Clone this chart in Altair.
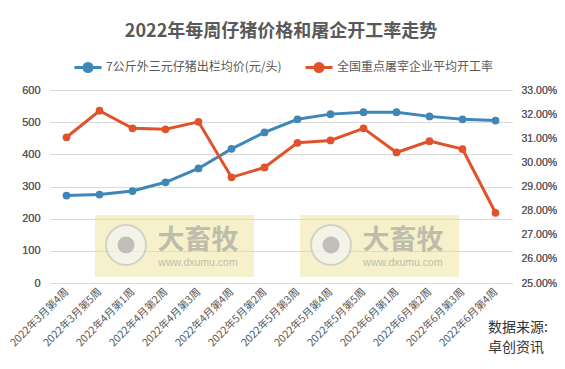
import altair as alt
import pandas as pd

weeks = ["2022年3月第4周", "2022年3月第5周", "2022年4月第1周", "2022年4月第2周",
         "2022年4月第3周", "2022年4月第4周", "2022年5月第2周", "2022年5月第3周",
         "2022年5月第4周", "2022年5月第5周", "2022年6月第1周", "2022年6月第2周",
         "2022年6月第3周", "2022年6月第4周"]
price = [272, 275, 286, 313, 356, 417, 468, 509, 525, 531, 531, 518, 509, 505]
rate = [31.04, 32.14, 31.41, 31.37, 31.68, 29.38, 29.79, 30.81, 30.91, 31.41,
        30.41, 30.88, 30.55, 27.91]
series = ["7公斤外三元仔猪出栏均价(元/头)", "全国重点屠宰企业平均开工率"]
colors = ["#3f87b6", "#e0532a"]

FONT = "Liberation Sans, Noto Sans CJK SC, sans-serif"
CJK = "Noto Sans CJK SC, sans-serif"
GRAY = "#595959"

df_p = pd.DataFrame({"week": weeks, "val": price, "series": series[0]})
df_r = pd.DataFrame({"week": weeks, "val": [v / 100 for v in rate], "series": series[1]})

xenc = alt.X("week:N", sort=weeks,
             scale=alt.Scale(type="point", padding=0.5),
             axis=alt.Axis(title=None, labelAngle=-45, labelAlign="right", labelBaseline="middle",
                           labelFontSize=10.5, labelColor=GRAY, labelFont=CJK, ticks=False,
                           domainColor="#d9d9d9", labelPadding=7))

legend = alt.Legend(
    orient="none", legendX=23, legendY=-38, direction="horizontal", title=None,
    symbolType="M-1,0H1M-0.3,0A0.3,0.3,0,1,0,0.3,0A0.3,0.3,0,1,0,-0.3,0Z",
    symbolSize=729, symbolStrokeWidth=3, labelFontSize=12, labelColor=GRAY, labelFont=CJK,
    columnPadding=17, labelOffset=3, symbolOpacity=1, labelLimit=400)
cenc = alt.Color("series:N", scale=alt.Scale(domain=series, range=colors), legend=legend)

yp = alt.Y("val:Q", scale=alt.Scale(domain=[0, 600], nice=False),
           axis=alt.Axis(orient="left", title=None, values=[0, 100, 200, 300, 400, 500, 600],
                         grid=True, gridColor="#d9d9d9", domain=False, ticks=False,
                         labelColor=GRAY, labelFontSize=11, labelFont=FONT, labelPadding=10))
yr = alt.Y("val:Q", scale=alt.Scale(domain=[0.25, 0.33], nice=False),
           axis=alt.Axis(orient="right", title=None, format=".2%",
                         values=[0.25, 0.26, 0.27, 0.28, 0.29, 0.30, 0.31, 0.32, 0.33],
                         grid=False, domain=False, ticks=False,
                         labelColor=GRAY, labelFontSize=10.5, labelFont=FONT, labelPadding=9))

pts_p = alt.Chart(df_p).mark_point(filled=True, size=60, opacity=1, shape="circle").encode(x=xenc, y=yp, color=cenc)
line_p = alt.Chart(df_p).mark_line(strokeWidth=3).encode(x=xenc, y=yp, color=cenc)
pts_r = alt.Chart(df_r).mark_point(filled=True, size=60, opacity=1, shape="circle").encode(x=xenc, y=yr, color=cenc)
line_r = alt.Chart(df_r).mark_line(strokeWidth=3).encode(x=xenc, y=yr, color=cenc)

# watermarks (decoration)
wm = pd.DataFrame({"x0": [45, 250]})
wm = wm.assign(x1=wm.x0 + 159, cx=wm.x0 + 31, tx=wm.x0 + 103)
base = alt.Chart(wm)
wm_rect = base.mark_rect(fill="#eadf8a", opacity=0.45).encode(
    x=alt.X("x0:Q", scale=None), x2="x1:Q", y=alt.value(125), y2=alt.value(187))
wm_c1 = base.mark_point(shape="circle", filled=True, size=1600, fill="#f4f4f4",
                        stroke="#c4c4c4", strokeWidth=2, opacity=0.7).encode(
    x=alt.X("cx:Q", scale=None), y=alt.value(155))
wm_c2 = base.mark_point(shape="circle", filled=True, size=290, color="#9c9c9c", opacity=0.6).encode(
    x=alt.X("cx:Q", scale=None), y=alt.value(155))
wm_t = base.mark_text(text="大畜牧", fontSize=27, fontWeight="bold", font=CJK,
                      color="#9a9a9a", opacity=0.6).encode(
    x=alt.X("tx:Q", scale=None), y=alt.value(151))
wm_u = base.mark_text(text="www.dxumu.com", fontSize=10.5, font=FONT,
                      color="#9a9a9a", opacity=0.6).encode(
    x=alt.X("tx:Q", scale=None), y=alt.value(173))

src = alt.Chart(pd.DataFrame({"a": [0]})).mark_text(
    text=["数据来源:", "卓创资讯"], align="left", baseline="middle", fontSize=14,
    lineHeight=20, font=CJK, color="#333333").encode(x=alt.value(438), y=alt.value(238))

chart = alt.layer(wm_rect, wm_c1, wm_c2, wm_t, wm_u, pts_p, line_p, pts_r, line_r, src).resolve_scale(
    y="independent").properties(
    width=462, height=193,
    autosize=alt.AutoSizeParams(type="none"),
    padding={"left": 42, "top": 82, "right": 45, "bottom": 78},
    title=alt.TitleParams("2022年每周仔猪价格和屠企开工率走势", fontSize=18, fontWeight="bold",
                          color=GRAY, font=CJK, anchor="middle", frame="group", offset=11)
).configure_view(stroke=None)

chart.save("out.html", embed_options={"renderer": "svg", "actions": False})
